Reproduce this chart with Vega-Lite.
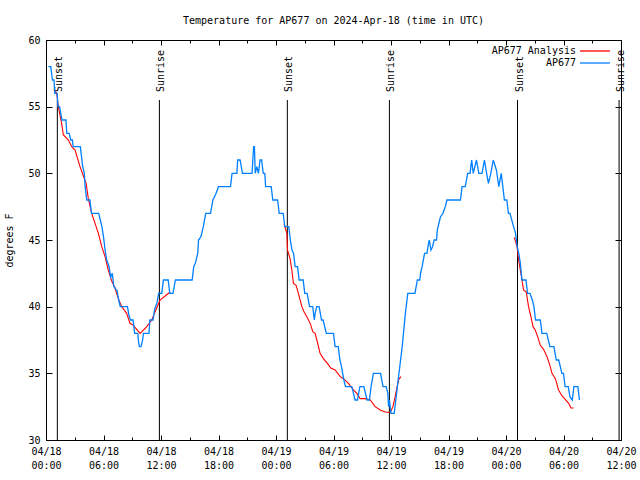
{
  "$schema": "https://vega.github.io/schema/vega-lite/v6.json",
  "width": 575,
  "height": 400,
  "autosize": "none",
  "padding": {"left": 46, "top": 40, "right": 19, "bottom": 40},
  "background": "white",
  "title": {"text": "Temperature for AP677 on 2024-Apr-18 (time in UTC)", "anchor": "middle", "frame": "group", "font": "DejaVu Sans Mono", "fontSize": 10, "fontWeight": "normal", "color": "black", "offset": 9},
  "config": {
    "view": {"stroke": "black", "strokeWidth": 1},
    "axis": {"labelFont": "DejaVu Sans Mono", "labelFontSize": 10, "labelColor": "black", "tickColor": "black", "domain": false, "grid": false, "titleFont": "DejaVu Sans Mono", "titleFontSize": 10, "titleFontWeight": "normal", "titleColor": "black"},
    "legend": {"orient": "none", "legendX": 544, "legendY": 6, "symbolType": "M-5,0L5,0", "symbolSize": 36, "symbolStrokeWidth": 1.3, "symbolFillColor": "transparent", "labelAlign": "right", "labelOffset": -24, "rowPadding": 2, "labelFont": "DejaVu Sans Mono", "labelFontSize": 10, "labelColor": "black", "padding": 0, "symbolOffset": 0}
  },
  "datasets": {
    "obs": [
      {"time": "2024-04-18T00:15:00Z", "temp": 58}, {"time": "2024-04-18T00:30:00Z", "temp": 58}, {"time": "2024-04-18T00:40:00Z", "temp": 57}, {"time": "2024-04-18T00:50:00Z", "temp": 57}, {"time": "2024-04-18T00:55:00Z", "temp": 56}, {"time": "2024-04-18T01:10:00Z", "temp": 56}, {"time": "2024-04-18T01:15:00Z", "temp": 55}, {"time": "2024-04-18T01:25:00Z", "temp": 55}, {"time": "2024-04-18T01:40:00Z", "temp": 54}, {"time": "2024-04-18T02:05:00Z", "temp": 54}, {"time": "2024-04-18T02:10:00Z", "temp": 53}, {"time": "2024-04-18T02:25:00Z", "temp": 53}, {"time": "2024-04-18T02:35:00Z", "temp": 52.5}, {"time": "2024-04-18T02:45:00Z", "temp": 52.5}, {"time": "2024-04-18T02:50:00Z", "temp": 52}, {"time": "2024-04-18T03:35:00Z", "temp": 52},
      {"time": "2024-04-18T03:40:00Z", "temp": 51.5}, {"time": "2024-04-18T03:50:00Z", "temp": 50.5}, {"time": "2024-04-18T04:00:00Z", "temp": 50}, {"time": "2024-04-18T04:05:00Z", "temp": 49}, {"time": "2024-04-18T04:10:00Z", "temp": 48.5}, {"time": "2024-04-18T04:15:00Z", "temp": 48}, {"time": "2024-04-18T04:35:00Z", "temp": 48}, {"time": "2024-04-18T04:45:00Z", "temp": 47}, {"time": "2024-04-18T05:30:00Z", "temp": 47}, {"time": "2024-04-18T05:40:00Z", "temp": 46.5}, {"time": "2024-04-18T05:50:00Z", "temp": 46}, {"time": "2024-04-18T06:00:00Z", "temp": 45.25}, {"time": "2024-04-18T06:10:00Z", "temp": 44.25}, {"time": "2024-04-18T06:20:00Z", "temp": 43.5}, {"time": "2024-04-18T06:35:00Z", "temp": 43}, {"time": "2024-04-18T06:45:00Z", "temp": 42.2}, {"time": "2024-04-18T06:55:00Z", "temp": 42.5}, {"time": "2024-04-18T07:05:00Z", "temp": 41.5}, {"time": "2024-04-18T07:25:00Z", "temp": 41.2}, {"time": "2024-04-18T07:35:00Z", "temp": 40.5}, {"time": "2024-04-18T07:45:00Z", "temp": 40}, {"time": "2024-04-18T08:30:00Z", "temp": 40}, {"time": "2024-04-18T08:40:00Z", "temp": 39.3}, {"time": "2024-04-18T08:50:00Z", "temp": 39}, {"time": "2024-04-18T09:05:00Z", "temp": 39}, {"time": "2024-04-18T09:10:00Z", "temp": 38.5}, {"time": "2024-04-18T09:15:00Z", "temp": 38}, {"time": "2024-04-18T09:35:00Z", "temp": 38}, {"time": "2024-04-18T09:40:00Z", "temp": 37.3}, {"time": "2024-04-18T09:45:00Z", "temp": 37}, {"time": "2024-04-18T09:55:00Z", "temp": 37}, {"time": "2024-04-18T10:05:00Z", "temp": 37.5}, {"time": "2024-04-18T10:10:00Z", "temp": 38}, {"time": "2024-04-18T10:45:00Z", "temp": 38}, {"time": "2024-04-18T10:50:00Z", "temp": 39}, {"time": "2024-04-18T11:10:00Z", "temp": 39}, {"time": "2024-04-18T11:20:00Z", "temp": 39.8}, {"time": "2024-04-18T11:35:00Z", "temp": 40.3}, {"time": "2024-04-18T11:45:00Z", "temp": 41}, {"time": "2024-04-18T12:05:00Z", "temp": 41}, {"time": "2024-04-18T12:15:00Z", "temp": 42}, {"time": "2024-04-18T12:45:00Z", "temp": 42}, {"time": "2024-04-18T12:55:00Z", "temp": 41}, {"time": "2024-04-18T13:15:00Z", "temp": 41}, {"time": "2024-04-18T13:30:00Z", "temp": 42}, {"time": "2024-04-18T15:15:00Z", "temp": 42}, {"time": "2024-04-18T15:25:00Z", "temp": 43}, {"time": "2024-04-18T15:35:00Z", "temp": 43.25}, {"time": "2024-04-18T15:50:00Z", "temp": 44}, {"time": "2024-04-18T15:55:00Z", "temp": 45}, {"time": "2024-04-18T16:10:00Z", "temp": 45.25}, {"time": "2024-04-18T16:25:00Z", "temp": 46}, {"time": "2024-04-18T16:40:00Z", "temp": 47}, {"time": "2024-04-18T17:10:00Z", "temp": 47}, {"time": "2024-04-18T17:25:00Z", "temp": 48}, {"time": "2024-04-18T17:45:00Z", "temp": 48.5}, {"time": "2024-04-18T18:00:00Z", "temp": 49}, {"time": "2024-04-18T19:15:00Z", "temp": 49}, {"time": "2024-04-18T19:25:00Z", "temp": 50}, {"time": "2024-04-18T19:55:00Z", "temp": 50}, {"time": "2024-04-18T20:00:00Z", "temp": 51}, {"time": "2024-04-18T20:15:00Z", "temp": 51}, {"time": "2024-04-18T20:30:00Z", "temp": 50}, {"time": "2024-04-18T21:30:00Z", "temp": 50}, {"time": "2024-04-18T21:40:00Z", "temp": 52}, {"time": "2024-04-18T21:45:00Z", "temp": 52}, {"time": "2024-04-18T21:50:00Z", "temp": 50}, {"time": "2024-04-18T22:00:00Z", "temp": 50.5}, {"time": "2024-04-18T22:10:00Z", "temp": 50}, {"time": "2024-04-18T22:20:00Z", "temp": 51}, {"time": "2024-04-18T22:30:00Z", "temp": 51}, {"time": "2024-04-18T22:40:00Z", "temp": 50}, {"time": "2024-04-18T22:50:00Z", "temp": 50}, {"time": "2024-04-18T22:55:00Z", "temp": 49}, {"time": "2024-04-18T23:30:00Z", "temp": 49}, {"time": "2024-04-18T23:40:00Z", "temp": 48},
      {"time": "2024-04-19T00:10:00Z", "temp": 48}, {"time": "2024-04-19T00:20:00Z", "temp": 47}, {"time": "2024-04-19T00:45:00Z", "temp": 47}, {"time": "2024-04-19T00:55:00Z", "temp": 46}, {"time": "2024-04-19T01:20:00Z", "temp": 46}, {"time": "2024-04-19T01:30:00Z", "temp": 45}, {"time": "2024-04-19T01:40:00Z", "temp": 44.25}, {"time": "2024-04-19T01:50:00Z", "temp": 44}, {"time": "2024-04-19T02:00:00Z", "temp": 43}, {"time": "2024-04-19T02:15:00Z", "temp": 43}, {"time": "2024-04-19T02:25:00Z", "temp": 42}, {"time": "2024-04-19T02:50:00Z", "temp": 42}, {"time": "2024-04-19T03:00:00Z", "temp": 41}, {"time": "2024-04-19T03:15:00Z", "temp": 41}, {"time": "2024-04-19T03:30:00Z", "temp": 40}, {"time": "2024-04-19T03:50:00Z", "temp": 40}, {"time": "2024-04-19T04:00:00Z", "temp": 39}, {"time": "2024-04-19T04:05:00Z", "temp": 39.5}, {"time": "2024-04-19T04:15:00Z", "temp": 40}, {"time": "2024-04-19T04:30:00Z", "temp": 40}, {"time": "2024-04-19T04:45:00Z", "temp": 39}, {"time": "2024-04-19T04:55:00Z", "temp": 39}, {"time": "2024-04-19T05:15:00Z", "temp": 38}, {"time": "2024-04-19T06:00:00Z", "temp": 38}, {"time": "2024-04-19T06:10:00Z", "temp": 37}, {"time": "2024-04-19T06:30:00Z", "temp": 37}, {"time": "2024-04-19T06:40:00Z", "temp": 36}, {"time": "2024-04-19T06:50:00Z", "temp": 35.5}, {"time": "2024-04-19T07:05:00Z", "temp": 34.5}, {"time": "2024-04-19T07:15:00Z", "temp": 34}, {"time": "2024-04-19T07:55:00Z", "temp": 34}, {"time": "2024-04-19T08:05:00Z", "temp": 33.5}, {"time": "2024-04-19T08:15:00Z", "temp": 33}, {"time": "2024-04-19T08:30:00Z", "temp": 33}, {"time": "2024-04-19T08:45:00Z", "temp": 34}, {"time": "2024-04-19T09:10:00Z", "temp": 34}, {"time": "2024-04-19T09:30:00Z", "temp": 33}, {"time": "2024-04-19T09:45:00Z", "temp": 33}, {"time": "2024-04-19T09:55:00Z", "temp": 34}, {"time": "2024-04-19T10:10:00Z", "temp": 35}, {"time": "2024-04-19T10:55:00Z", "temp": 35}, {"time": "2024-04-19T11:10:00Z", "temp": 34}, {"time": "2024-04-19T11:30:00Z", "temp": 34}, {"time": "2024-04-19T11:40:00Z", "temp": 33.5}, {"time": "2024-04-19T11:45:00Z", "temp": 32.5}, {"time": "2024-04-19T11:50:00Z", "temp": 33}, {"time": "2024-04-19T12:00:00Z", "temp": 32}, {"time": "2024-04-19T12:20:00Z", "temp": 32}, {"time": "2024-04-19T12:30:00Z", "temp": 33}, {"time": "2024-04-19T12:45:00Z", "temp": 34.5}, {"time": "2024-04-19T13:10:00Z", "temp": 37}, {"time": "2024-04-19T13:30:00Z", "temp": 39.5}, {"time": "2024-04-19T13:45:00Z", "temp": 41}, {"time": "2024-04-19T14:30:00Z", "temp": 41}, {"time": "2024-04-19T14:45:00Z", "temp": 42}, {"time": "2024-04-19T15:00:00Z", "temp": 42}, {"time": "2024-04-19T15:05:00Z", "temp": 42.5}, {"time": "2024-04-19T15:15:00Z", "temp": 43}, {"time": "2024-04-19T15:30:00Z", "temp": 44}, {"time": "2024-04-19T15:45:00Z", "temp": 44}, {"time": "2024-04-19T15:55:00Z", "temp": 44.75}, {"time": "2024-04-19T16:00:00Z", "temp": 45}, {"time": "2024-04-19T16:10:00Z", "temp": 44.25}, {"time": "2024-04-19T16:20:00Z", "temp": 44.5}, {"time": "2024-04-19T16:30:00Z", "temp": 45}, {"time": "2024-04-19T16:45:00Z", "temp": 45}, {"time": "2024-04-19T16:50:00Z", "temp": 45.75}, {"time": "2024-04-19T17:05:00Z", "temp": 46.5}, {"time": "2024-04-19T17:10:00Z", "temp": 46.75}, {"time": "2024-04-19T17:25:00Z", "temp": 47}, {"time": "2024-04-19T17:40:00Z", "temp": 47.5}, {"time": "2024-04-19T17:50:00Z", "temp": 48}, {"time": "2024-04-19T19:15:00Z", "temp": 48}, {"time": "2024-04-19T19:25:00Z", "temp": 49}, {"time": "2024-04-19T19:45:00Z", "temp": 49}, {"time": "2024-04-19T20:00:00Z", "temp": 50}, {"time": "2024-04-19T20:15:00Z", "temp": 50}, {"time": "2024-04-19T20:25:00Z", "temp": 51}, {"time": "2024-04-19T20:35:00Z", "temp": 50}, {"time": "2024-04-19T20:55:00Z", "temp": 51}, {"time": "2024-04-19T21:10:00Z", "temp": 50}, {"time": "2024-04-19T21:30:00Z", "temp": 50}, {"time": "2024-04-19T21:45:00Z", "temp": 51}, {"time": "2024-04-19T21:55:00Z", "temp": 50.25}, {"time": "2024-04-19T22:10:00Z", "temp": 49.25}, {"time": "2024-04-19T22:25:00Z", "temp": 50}, {"time": "2024-04-19T22:40:00Z", "temp": 51}, {"time": "2024-04-19T23:00:00Z", "temp": 50.25}, {"time": "2024-04-19T23:15:00Z", "temp": 49}, {"time": "2024-04-19T23:30:00Z", "temp": 50}, {"time": "2024-04-19T23:40:00Z", "temp": 49}, {"time": "2024-04-19T23:50:00Z", "temp": 48},
      {"time": "2024-04-20T00:05:00Z", "temp": 48}, {"time": "2024-04-20T00:15:00Z", "temp": 47}, {"time": "2024-04-20T00:25:00Z", "temp": 47}, {"time": "2024-04-20T00:45:00Z", "temp": 46.1}, {"time": "2024-04-20T01:00:00Z", "temp": 45.5}, {"time": "2024-04-20T01:10:00Z", "temp": 44.5}, {"time": "2024-04-20T01:20:00Z", "temp": 44}, {"time": "2024-04-20T01:30:00Z", "temp": 43.25}, {"time": "2024-04-20T01:40:00Z", "temp": 42}, {"time": "2024-04-20T02:05:00Z", "temp": 42}, {"time": "2024-04-20T02:15:00Z", "temp": 41}, {"time": "2024-04-20T02:30:00Z", "temp": 41}, {"time": "2024-04-20T02:45:00Z", "temp": 40.5}, {"time": "2024-04-20T02:55:00Z", "temp": 40}, {"time": "2024-04-20T03:05:00Z", "temp": 39}, {"time": "2024-04-20T03:35:00Z", "temp": 39}, {"time": "2024-04-20T03:45:00Z", "temp": 38}, {"time": "2024-04-20T04:15:00Z", "temp": 38}, {"time": "2024-04-20T04:35:00Z", "temp": 37}, {"time": "2024-04-20T05:00:00Z", "temp": 37}, {"time": "2024-04-20T05:15:00Z", "temp": 36}, {"time": "2024-04-20T05:30:00Z", "temp": 36}, {"time": "2024-04-20T05:40:00Z", "temp": 35.5}, {"time": "2024-04-20T05:50:00Z", "temp": 35}, {"time": "2024-04-20T06:00:00Z", "temp": 35}, {"time": "2024-04-20T06:10:00Z", "temp": 34}, {"time": "2024-04-20T06:30:00Z", "temp": 34}, {"time": "2024-04-20T06:40:00Z", "temp": 33.25}, {"time": "2024-04-20T06:55:00Z", "temp": 33}, {"time": "2024-04-20T07:05:00Z", "temp": 34}, {"time": "2024-04-20T07:30:00Z", "temp": 34}, {"time": "2024-04-20T07:40:00Z", "temp": 33}
    ],
    "analysis": [
      {"time": "2024-04-18T00:50:00Z", "temp": 56.25, "seg": 1}, {"time": "2024-04-18T01:07:00Z", "temp": 56, "seg": 1}, {"time": "2024-04-18T01:17:00Z", "temp": 55, "seg": 1}, {"time": "2024-04-18T01:38:00Z", "temp": 53.75, "seg": 1}, {"time": "2024-04-18T01:48:00Z", "temp": 52.9, "seg": 1}, {"time": "2024-04-18T02:20:00Z", "temp": 52.5, "seg": 1}, {"time": "2024-04-18T02:41:00Z", "temp": 52, "seg": 1}, {"time": "2024-04-18T03:02:00Z", "temp": 51.75, "seg": 1}, {"time": "2024-04-18T03:33:00Z", "temp": 50.5, "seg": 1}, {"time": "2024-04-18T03:54:00Z", "temp": 49.8, "seg": 1}, {"time": "2024-04-18T04:11:00Z", "temp": 49.25, "seg": 1}, {"time": "2024-04-18T04:25:00Z", "temp": 48.1, "seg": 1}, {"time": "2024-04-18T04:46:00Z", "temp": 47, "seg": 1}, {"time": "2024-04-18T05:07:00Z", "temp": 46.25, "seg": 1}, {"time": "2024-04-18T05:28:00Z", "temp": 45.5, "seg": 1}, {"time": "2024-04-18T05:49:00Z", "temp": 44.5, "seg": 1}, {"time": "2024-04-18T06:10:00Z", "temp": 43.75, "seg": 1}, {"time": "2024-04-18T06:30:00Z", "temp": 42.75, "seg": 1}, {"time": "2024-04-18T06:52:00Z", "temp": 41.9, "seg": 1}, {"time": "2024-04-18T07:12:00Z", "temp": 41.4, "seg": 1}, {"time": "2024-04-18T07:33:00Z", "temp": 40.6, "seg": 1}, {"time": "2024-04-18T07:54:00Z", "temp": 40, "seg": 1}, {"time": "2024-04-18T08:25:00Z", "temp": 39.5, "seg": 1}, {"time": "2024-04-18T08:46:00Z", "temp": 38.75, "seg": 1}, {"time": "2024-04-18T09:07:00Z", "temp": 38.6, "seg": 1}, {"time": "2024-04-18T09:49:00Z", "temp": 38, "seg": 1}, {"time": "2024-04-18T10:31:00Z", "temp": 38.5, "seg": 1}, {"time": "2024-04-18T11:02:00Z", "temp": 39, "seg": 1}, {"time": "2024-04-18T11:33:00Z", "temp": 39.9, "seg": 1}, {"time": "2024-04-18T11:54:00Z", "temp": 40.5, "seg": 1}, {"time": "2024-04-18T12:57:00Z", "temp": 41.1, "seg": 1},
      {"time": "2024-04-19T00:51:00Z", "temp": 46.2, "seg": 2}, {"time": "2024-04-19T01:08:00Z", "temp": 45.5, "seg": 2}, {"time": "2024-04-19T01:12:00Z", "temp": 44.25, "seg": 2}, {"time": "2024-04-19T01:28:00Z", "temp": 43.6, "seg": 2}, {"time": "2024-04-19T01:39:00Z", "temp": 42.75, "seg": 2}, {"time": "2024-04-19T01:49:00Z", "temp": 41.75, "seg": 2}, {"time": "2024-04-19T02:06:00Z", "temp": 41.6, "seg": 2}, {"time": "2024-04-19T02:20:00Z", "temp": 41, "seg": 2}, {"time": "2024-04-19T02:42:00Z", "temp": 40, "seg": 2}, {"time": "2024-04-19T02:56:00Z", "temp": 39.6, "seg": 2}, {"time": "2024-04-19T03:13:00Z", "temp": 39.25, "seg": 2}, {"time": "2024-04-19T03:34:00Z", "temp": 38.75, "seg": 2}, {"time": "2024-04-19T03:51:00Z", "temp": 38.1, "seg": 2}, {"time": "2024-04-19T04:05:00Z", "temp": 38, "seg": 2}, {"time": "2024-04-19T04:16:00Z", "temp": 37.5, "seg": 2}, {"time": "2024-04-19T04:36:00Z", "temp": 36.5, "seg": 2}, {"time": "2024-04-19T04:57:00Z", "temp": 36.1, "seg": 2}, {"time": "2024-04-19T05:22:00Z", "temp": 35.75, "seg": 2}, {"time": "2024-04-19T05:43:00Z", "temp": 35.4, "seg": 2}, {"time": "2024-04-19T06:10:00Z", "temp": 35.25, "seg": 2}, {"time": "2024-04-19T06:42:00Z", "temp": 34.75, "seg": 2}, {"time": "2024-04-19T07:02:00Z", "temp": 34.6, "seg": 2}, {"time": "2024-04-19T07:34:00Z", "temp": 34.25, "seg": 2}, {"time": "2024-04-19T08:05:00Z", "temp": 33.75, "seg": 2}, {"time": "2024-04-19T08:26:00Z", "temp": 33.5, "seg": 2}, {"time": "2024-04-19T08:47:00Z", "temp": 33.1, "seg": 2}, {"time": "2024-04-19T09:18:00Z", "temp": 33.1, "seg": 2}, {"time": "2024-04-19T09:50:00Z", "temp": 33, "seg": 2}, {"time": "2024-04-19T10:21:00Z", "temp": 32.5, "seg": 2}, {"time": "2024-04-19T10:52:00Z", "temp": 32.25, "seg": 2}, {"time": "2024-04-19T11:24:00Z", "temp": 32.1, "seg": 2}, {"time": "2024-04-19T11:55:00Z", "temp": 32.05, "seg": 2}, {"time": "2024-04-19T12:12:00Z", "temp": 32.5, "seg": 2}, {"time": "2024-04-19T12:26:00Z", "temp": 33.25, "seg": 2}, {"time": "2024-04-19T12:47:00Z", "temp": 34.5, "seg": 2}, {"time": "2024-04-19T13:02:00Z", "temp": 34.75, "seg": 2},
      {"time": "2024-04-20T00:52:00Z", "temp": 45.2, "seg": 3}, {"time": "2024-04-20T01:09:00Z", "temp": 44.5, "seg": 3}, {"time": "2024-04-20T01:19:00Z", "temp": 43.5, "seg": 3}, {"time": "2024-04-20T01:40:00Z", "temp": 42, "seg": 3}, {"time": "2024-04-20T01:50:00Z", "temp": 41.25, "seg": 3}, {"time": "2024-04-20T02:07:00Z", "temp": 41.1, "seg": 3}, {"time": "2024-04-20T02:21:00Z", "temp": 40, "seg": 3}, {"time": "2024-04-20T02:36:00Z", "temp": 39.25, "seg": 3}, {"time": "2024-04-20T02:49:00Z", "temp": 38.5, "seg": 3}, {"time": "2024-04-20T03:03:00Z", "temp": 38.25, "seg": 3}, {"time": "2024-04-20T03:18:00Z", "temp": 37.75, "seg": 3}, {"time": "2024-04-20T03:35:00Z", "temp": 37.1, "seg": 3}, {"time": "2024-04-20T03:55:00Z", "temp": 36.8, "seg": 3}, {"time": "2024-04-20T04:17:00Z", "temp": 36.25, "seg": 3}, {"time": "2024-04-20T04:37:00Z", "temp": 35.5, "seg": 3}, {"time": "2024-04-20T04:48:00Z", "temp": 35, "seg": 3}, {"time": "2024-04-20T05:09:00Z", "temp": 34.6, "seg": 3}, {"time": "2024-04-20T05:29:00Z", "temp": 33.75, "seg": 3}, {"time": "2024-04-20T05:51:00Z", "temp": 33.3, "seg": 3}, {"time": "2024-04-20T06:11:00Z", "temp": 33.05, "seg": 3}, {"time": "2024-04-20T06:32:00Z", "temp": 32.75, "seg": 3}, {"time": "2024-04-20T06:47:00Z", "temp": 32.4, "seg": 3}, {"time": "2024-04-20T07:03:00Z", "temp": 32.4, "seg": 3}
    ],
    "sun": [
      {"time": "2024-04-18T01:11:00Z", "event": "Sunset"}, {"time": "2024-04-18T11:50:00Z", "event": "Sunrise"}, {"time": "2024-04-19T01:11:00Z", "event": "Sunset"}, {"time": "2024-04-19T11:50:00Z", "event": "Sunrise"}, {"time": "2024-04-20T01:12:00Z", "event": "Sunset"}, {"time": "2024-04-20T11:48:00Z", "event": "Sunrise"}
    ]
  },
  "resolve": {"axis": {"x": "independent", "y": "independent"}},
  "layer": [
    {
      "data": {"name": "sun"},
      "mark": {"type": "rule", "color": "black", "strokeWidth": 1},
      "encoding": {
        "x": {"field": "time", "type": "temporal", "scale": {"type": "utc", "domain": ["2024-04-18T00:00:00Z", "2024-04-20T12:00:00Z"], "nice": false},
          "axis": {"orient": "bottom", "values": ["2024-04-18T00:00:00Z", "2024-04-18T06:00:00Z", "2024-04-18T12:00:00Z", "2024-04-18T18:00:00Z", "2024-04-19T00:00:00Z", "2024-04-19T06:00:00Z", "2024-04-19T12:00:00Z", "2024-04-19T18:00:00Z", "2024-04-20T00:00:00Z", "2024-04-20T06:00:00Z", "2024-04-20T12:00:00Z"], "tickSize": -5, "labelPadding": 11, "labelLineHeight": 14, "labelExpr": "[utcFormat(datum.value, '%m/%d'), utcFormat(datum.value, '%H:%M')]", "labelFlush": false, "labelOverlap": false, "title": null}},
        "y": {"datum": 55.5, "type": "quantitative", "scale": {"domain": [30, 60], "nice": false, "zero": false},
          "axis": {"orient": "left", "values": [30, 35, 40, 45, 50, 55, 60], "tickSize": -6, "labelPadding": 12, "title": "degrees F", "titlePadding": 13}},
        "y2": {"datum": 30}
      }
    },
    {
      "data": {"name": "sun"},
      "mark": {"type": "text", "angle": 270, "align": "left", "baseline": "middle", "dy": 2, "font": "DejaVu Sans Mono", "fontSize": 10, "color": "black"},
      "encoding": {
        "x": {"field": "time", "type": "temporal", "axis": {"orient": "bottom", "tickCount": 30, "tickSize": -3, "labels": false, "title": null}},
        "y": {"datum": 56.1, "type": "quantitative", "axis": {"orient": "right", "values": [30, 35, 40, 45, 50, 55, 60], "tickSize": -6, "labels": false, "title": null}},
        "text": {"field": "event"}
      }
    },
    {
      "data": {"name": "analysis"},
      "mark": {"type": "line", "strokeWidth": 1.1},
      "encoding": {
        "x": {"field": "time", "type": "temporal", "axis": {"orient": "top", "values": ["2024-04-18T00:00:00Z", "2024-04-18T06:00:00Z", "2024-04-18T12:00:00Z", "2024-04-18T18:00:00Z", "2024-04-19T00:00:00Z", "2024-04-19T06:00:00Z", "2024-04-19T12:00:00Z", "2024-04-19T18:00:00Z", "2024-04-20T00:00:00Z", "2024-04-20T06:00:00Z", "2024-04-20T12:00:00Z"], "tickSize": -5, "labels": false, "title": null}},
        "y": {"field": "temp", "type": "quantitative", "axis": null},
        "detail": {"field": "seg"},
        "color": {"datum": "AP677 Analysis", "scale": {"domain": ["AP677 Analysis", "AP677"], "range": ["#ff0000", "#0080ff"]}, "legend": {"title": null}}
      }
    },
    {
      "data": {"name": "obs"},
      "mark": {"type": "line", "strokeWidth": 1.3},
      "encoding": {
        "x": {"field": "time", "type": "temporal", "axis": {"orient": "top", "tickCount": 30, "tickSize": -3, "labels": false, "title": null}},
        "y": {"field": "temp", "type": "quantitative", "axis": null},
        "color": {"datum": "AP677"}
      }
    }
  ]
}
